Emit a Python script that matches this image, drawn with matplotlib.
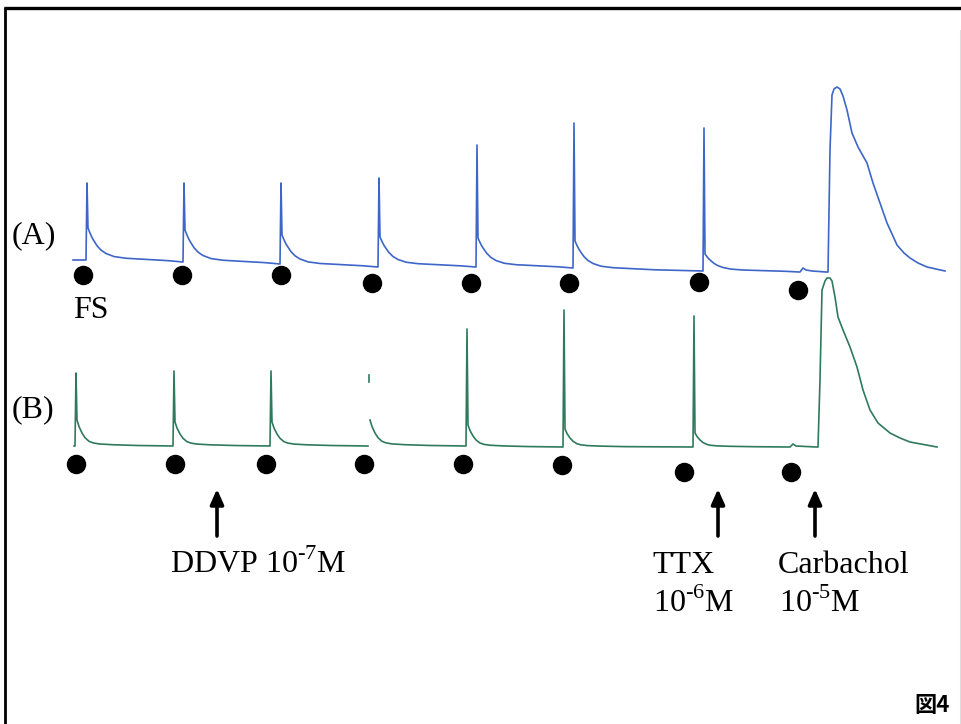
import matplotlib
matplotlib.use("Agg")
import matplotlib.pyplot as plt
import numpy as np

# ---- data (time axis left->right, tension axis downward) ----
# (A) control: field-stimulation responses
a_onset = [87, 184, 281, 379, 477, 574, 704]
a_peak = [183, 183, 183, 178, 145, 123, 128]
a_shoulder = [34, 34, 32, 30, 30, 30, 18]
a_base = [260, 262, 264, 267, 267, 268, 271, 272]
a_decay_dt = [0, 2, 4, 6, 9, 13, 18, 26, 38, 56, 80]
a_decay_frac = [1.0, 0.85, 0.72, 0.62, 0.48, 0.35, 0.25, 0.16, 0.11, 0.08, 0.04]
a_tail_t = [800, 803, 806, 812, 826, 828, 830, 832, 834, 837, 840, 843, 847, 852, 858, 867,
            873, 880, 887, 897, 904, 910, 918, 927, 945]
a_tail_v = [272, 268, 270, 271, 272, 272, 150, 95, 89, 87, 89, 96, 110, 133, 147, 163,
            183, 203, 223, 245, 253, 258, 263, 267, 271]
a_fs_t = [83, 182, 281, 372, 471, 569, 699, 798]
a_fs_v = [275, 275, 275, 283, 283, 283, 282, 290]

# (B) with DDVP, TTX, carbachol
b_onset = [76, 174, 271, 369, 467, 564, 694]
b_peak = [373, 371, 371, 375, 329, 310, 316]
b_shoulder = [26, 24, 24, 26, 22, 18, 14]
b_base = [446, 446, 446, 446, 446, 447, 447, 447]
b_gap = {3: 382}  # 4th response: pen trace broken below this level
b_decay_dt = [0, 2, 5, 8, 12, 16, 22, 35, 60]
b_decay_frac = [1.0, 0.75, 0.5, 0.32, 0.18, 0.12, 0.08, 0.05, 0.02]
b_tail_t = [790, 793, 796, 816, 818, 820, 822, 825, 827, 830, 832, 835, 838, 843, 850, 857,
            863, 870, 878, 890, 900, 910, 937]
b_tail_v = [447, 444, 446, 447, 447, 380, 290, 281, 278, 278, 281, 297, 317, 330, 347, 367,
            390, 410, 423, 433, 438, 442, 447]
b_fs_t = [76, 175, 266, 364, 463, 562, 684, 791]
b_fs_v = [464, 464, 464, 464, 464, 465, 472, 472]

drug_t = [217, 718, 815]
drug_names = ["DDVP", "TTX", "Carbachol"]
drug_exp = ["7", "6", "5"]


def build_trace(start, onsets, peaks, shoulders, bases, dts, fracs, end, gaps=None):
    gaps = gaps or {}
    xs, ys = [start], [bases[0]]
    for k, t0 in enumerate(onsets):
        b0, b1 = bases[k], bases[k + 1]
        top = b1 - shoulders[k]
        if k in gaps:
            xs += [t0 - 1, np.nan, t0, t0, np.nan, t0 + 1]
            ys += [b0, np.nan, peaks[k], gaps[k], np.nan, top]
        else:
            xs += [t0 - 1, t0, t0 + 1]
            ys += [b0, peaks[k], top]
        for dt, f in zip(dts[1:], fracs[1:]):
            xs.append(t0 + 1 + dt)
            ys.append(b1 - shoulders[k] * f)
        nxt = onsets[k + 1] if k + 1 < len(onsets) else end
        xs.append(nxt - 1)
        ys.append(b1)
    return xs, ys


plt.rcParams["font.family"] = ["Liberation Serif", "DejaVu Serif"]
plt.rcParams["mathtext.fontset"] = "custom"
plt.rcParams["mathtext.rm"] = "Liberation Serif"

fig = plt.figure(figsize=(9.62, 7.24), dpi=100)
ax = fig.add_axes([0, 0, 1, 1])
ax.set_xlim(0, 962)
ax.set_ylim(724, 0)
ax.axis("off")

# frame
ax.plot([4, 962], [7.5, 7.5], color="black", lw=2.4, solid_capstyle="butt")
ax.plot([5, 5], [6.5, 724], color="black", lw=2.0, solid_capstyle="butt")
ax.plot([960, 960], [30, 724], color="#dddddd", lw=0.8)

blue = "#3d66c8"
green = "#2f7a5c"

xa, ya = build_trace(73, a_onset, a_peak, a_shoulder, a_base, a_decay_dt, a_decay_frac, a_tail_t[0])
ax.plot(xa + a_tail_t, ya + a_tail_v, color=blue, lw=1.2, solid_joinstyle="round")

xb, yb = build_trace(74, b_onset, b_peak, b_shoulder, b_base, b_decay_dt, b_decay_frac, b_tail_t[0], b_gap)
ax.plot(xb + b_tail_t, yb + b_tail_v, color=green, lw=1.2, solid_joinstyle="round")

# stimulation marks
ax.plot(a_fs_t, a_fs_v, "o", color="black", ms=13)
ax.plot(b_fs_t, b_fs_v, "o", color="black", ms=13)

# drug additions
for t in drug_t:
    ax.annotate("", xy=(t, 489), xytext=(t, 536),
                arrowprops=dict(arrowstyle="-|>,head_length=0.9,head_width=0.4",
                                lw=2.6, color="black", shrinkA=0, shrinkB=0))


def conc(e):
    return "10$^{\\mathregular{\u2010" + e + "}}$M"


fs = 23
ax.text(12, 243, "(A)", fontsize=fs, va="baseline", ha="left")
ax.text(12, 417, "(B)", fontsize=fs, va="baseline", ha="left")
ax.text(73, 318, "FS", fontsize=fs, va="baseline", ha="left")
ax.text(170, 573, drug_names[0] + " " + conc(drug_exp[0]), fontsize=fs, va="baseline", ha="left")
for name, e, x0 in zip(drug_names[1:], drug_exp[1:], [652, 778]):
    ax.text(x0, 573, name, fontsize=fs, va="baseline", ha="left")
    ax.text(x0 + 1, 612, conc(e), fontsize=fs, va="baseline", ha="left")

ax.text(914, 712, "図4", fontsize=16, weight="bold", va="baseline", ha="left",
        family=["Noto Sans CJK JP", "DejaVu Sans"])

fig.savefig("out.png", dpi=100)
